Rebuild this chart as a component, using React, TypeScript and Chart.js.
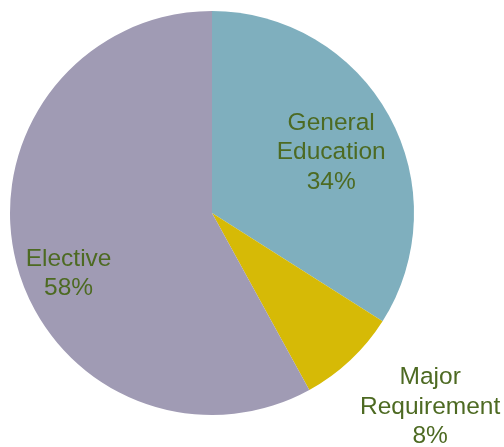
import React, { useEffect, useRef } from "react";
import { Chart, registerables } from "chart.js";

Chart.register(...registerables);

const categories: string[][] = [["General", "Education"], ["Major", "Requirement"], ["Elective"]];
const values: number[] = [34, 8, 58];
const colors: string[] = ["#7FAFBE", "#D6BA06", "#A09BB4"];
// label placement relative to pie center, as fraction of radius (styling only)
const labelOffsets: number[][] = [[0.59, -0.30], [1.08, 0.96], [-0.71, 0.30]];

const labelPlugin = {
  id: "sliceLabels",
  afterDraw(chart: any) {
    const ctx = chart.ctx;
    const meta = chart.getDatasetMeta(0);
    const total = values.reduce((a, b) => a + b, 0);
    ctx.save();
    ctx.fillStyle = "#4D6A22";
    ctx.font = "24.5px 'Liberation Sans', Arial, sans-serif";
    ctx.textAlign = "center";
    ctx.textBaseline = "middle";
    meta.data.forEach((arc: any, i: number) => {
      const { x, y, outerRadius } = arc.getProps(["x", "y", "outerRadius"], true);
      const cx = x + labelOffsets[i][0] * outerRadius;
      const cy = y + labelOffsets[i][1] * outerRadius;
      const lines = [...categories[i], Math.round((values[i] / total) * 100) + "%"];
      const lh = 29.5;
      const start = cy - ((lines.length - 1) * lh) / 2;
      lines.forEach((t, k) => ctx.fillText(t, cx, start + k * lh));
    });
    ctx.restore();
  },
};

export default function App() {
  const ref = useRef<HTMLCanvasElement>(null);
  useEffect(() => {
    if (!ref.current) return;
    const chart = new Chart(ref.current, {
      type: "pie",
      data: {
        labels: categories.map((c) => c.join(" ")),
        datasets: [
          {
            data: values,
            backgroundColor: colors,
            borderWidth: 0,
          },
        ],
      },
      options: {
        responsive: false,
        animation: false,
        devicePixelRatio: 1,
        layout: { padding: { left: 10, right: 90, top: 11, bottom: 32 } },
        plugins: { legend: { display: false }, tooltip: { enabled: false } },
      },
      plugins: [labelPlugin],
    });
    return () => chart.destroy();
  }, []);
  return (
    <div style={{ position: "absolute", left: 0, top: 0, width: 504, height: 447, background: "#fff" }}>
      <canvas ref={ref} width={504} height={447} />
    </div>
  );
}
